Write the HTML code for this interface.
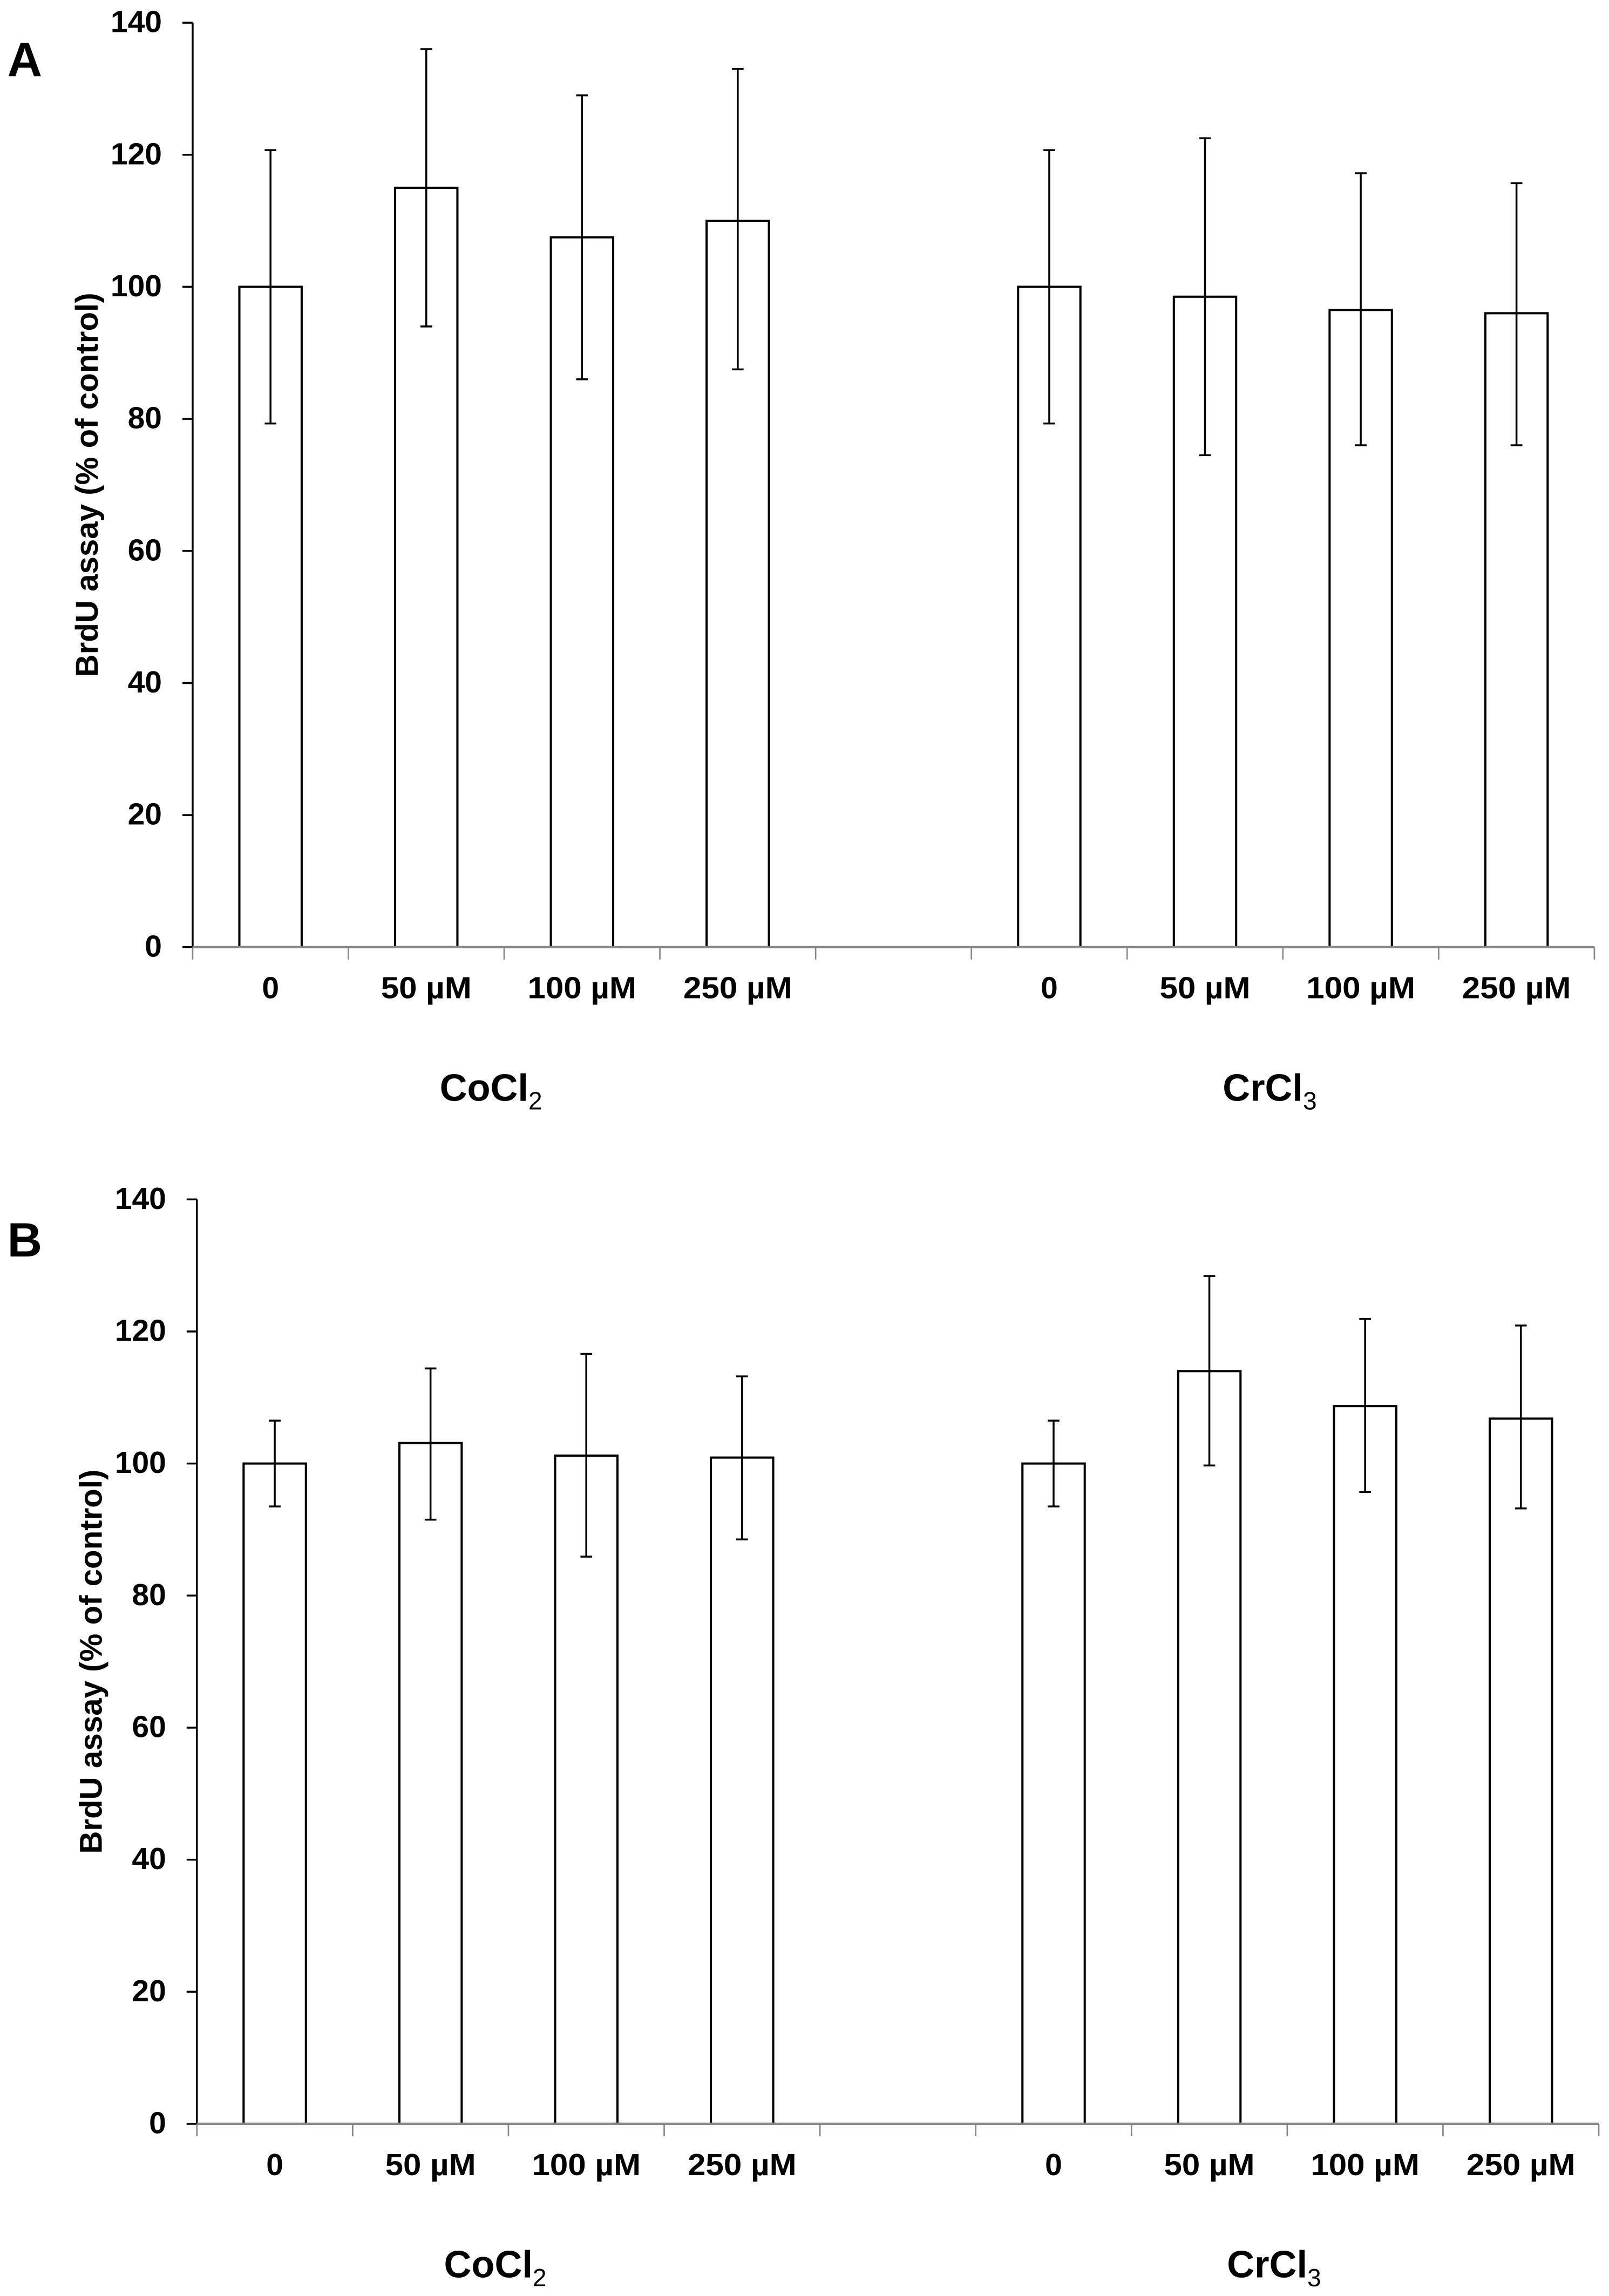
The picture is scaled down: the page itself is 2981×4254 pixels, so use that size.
<!DOCTYPE html>
<html><head><meta charset="utf-8"><style>
html,body{margin:0;padding:0;background:#fff;}
svg{display:block;}
text{font-family:"Liberation Sans",sans-serif;font-weight:bold;fill:#000;}
</style></head><body>
<svg id="fig" xmlns="http://www.w3.org/2000/svg" width="2981" height="4254" viewBox="0 0 1100 1569.7">
<rect x="0" y="0" width="1100" height="1569.7" fill="#fff"/>
</svg>
<script>
const categories = ["0","50 µM","100 µM","250 µM","","0","50 µM","100 µM","250 µM"];
const yTicks = [0,20,40,60,80,100,120,140];
const groupLabels = ["CoCl","CrCl"];
const groupSubs = ["2","3"];
const valuesA = [100,115,107.5,110,null,100,98.5,96.5,96];
const errHighA = [120.7,136,129,133,null,120.7,122.5,117.2,115.7];
const errLowA = [79.3,94,86,87.5,null,79.3,74.5,76,76];
const valuesB = [100,103.1,101.2,100.9,null,100,114,108.7,106.8];
const errHighB = [106.5,114.4,116.6,113.2,null,106.5,128.4,121.9,120.9];
const errLowB = [93.5,91.5,85.9,88.5,null,93.5,99.7,95.7,93.2];

const NS="http://www.w3.org/2000/svg";
const svg=document.getElementById('fig');
function mk(tag,attrs,parent){const e=document.createElementNS(NS,tag);for(const k in attrs)e.setAttribute(k,attrs[k]);(parent||svg).appendChild(e);return e;}

function drawPanel(p){
  const g=mk('g',{});
  
  
  const yMin=0,yMax=140;
  const yScale=v=>p.y0+(v-yMin)/(yMax-yMin)*(p.y140-p.y0);
  const n=categories.length;
  const cw=(p.xEnd-p.x0)/n;
  const xCenter=i=>p.x0+cw*(i+0.5);
  const L=mk('text',{x:p.lx,y:p.ly,'font-size':33},g);L.textContent=p.letter;
  
  
  const yt=mk('text',{x:0,y:0,'font-size':21.5,'text-anchor':'middle',transform:`translate(${p.x0-65},${(yScale(70))}) rotate(-90)`},g);
  yt.textContent="BrdU assay (% of control)";
  
  
  const ya=mk('line',{x1:p.x0,y1:yScale(140),x2:p.x0,y2:yScale(0),stroke:'#000','stroke-width':1.3},g);
  
  
  yTicks.forEach(t=>{
    const y=yScale(t);
    const tk=mk('line',{x1:p.x0-7,y1:y,x2:p.x0,y2:y,stroke:'#000','stroke-width':1.3},g);
    
    
    const s=String(t);
    const tl=mk('text',{x:p.x0-21,y:y+6.5,'font-size':21,'text-anchor':'end',textLength:s.length*11.7,lengthAdjust:'spacingAndGlyphs'},g);
    tl.textContent=s;
    
    
  });
  const bw=cw*0.4;
  p.vals.forEach((v,i)=>{
    if(v===null)return;
    const cx=xCenter(i);
    const r=mk('rect',{x:cx-bw/2,y:yScale(v),width:bw,height:yScale(0)-yScale(v),fill:'#fff',stroke:'#000','stroke-width':1.5},g);
    
    
    const e=mk('path',{d:`M${cx},${yScale(p.hi[i])}V${yScale(p.lo[i])}M${cx-4},${yScale(p.hi[i])}H${cx+4}M${cx-4},${yScale(p.lo[i])}H${cx+4}`,stroke:'#000','stroke-width':1.3,fill:'none'},g);
    
    
  });
  const xa=mk('line',{x1:p.x0,y1:yScale(0),x2:p.xEnd,y2:yScale(0),stroke:'#888','stroke-width':1.6},g);
  
  
  for(let i=0;i<=n;i++){
    const x=p.x0+cw*i;
    const tk=mk('line',{x1:x,y1:yScale(0),x2:x,y2:yScale(0)+8.5,stroke:'#888','stroke-width':1},g);
    
    
  }
  categories.forEach((c,i)=>{
    if(!c)return;
    const t=mk('text',{x:xCenter(i),y:yScale(0)+35,'font-size':21,'text-anchor':'middle',textLength:c.length===1?11.7:(c.length*12.4),lengthAdjust:'spacingAndGlyphs'},g);
    t.textContent=c;
    
    
  });
  [[1.5,0],[6.5,1]].forEach(([pos,k])=>{
    const t=mk('text',{x:p.x0+cw*(pos+0.5)-9,y:yScale(0)+105,'font-size':26,'text-anchor':'middle'},g);
    
    
    const a=document.createElementNS(NS,'tspan');a.textContent=groupLabels[k];t.appendChild(a);
    const b=document.createElementNS(NS,'tspan');b.setAttribute('font-size','17');b.setAttribute('font-weight','normal');b.setAttribute('dy','6');b.textContent=groupSubs[k];t.appendChild(b);
  });
}
drawPanel({letter:'A',lx:5,ly:52,x0:131.7,xEnd:1090,y0:647.5,y140:15.5,vals:valuesA,hi:errHighA,lo:errLowA});
drawPanel({letter:'B',lx:5,ly:859,x0:134.6,xEnd:1093,y0:1452,y140:820,vals:valuesB,hi:errHighB,lo:errLowB});
</script>
</body></html>
